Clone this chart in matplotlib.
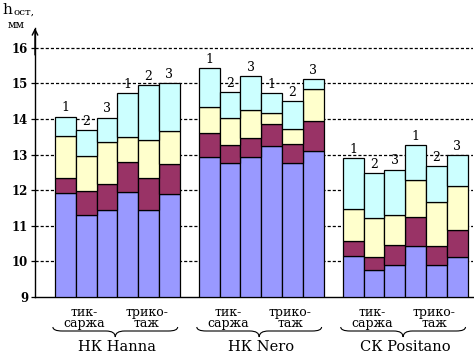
import matplotlib
matplotlib.use("Agg")
import matplotlib.pyplot as plt
from matplotlib.path import Path
from matplotlib.patches import PathPatch
import matplotlib.transforms as mtransforms
import numpy as np

groups = ['НК Hanna', 'НК Nero', 'СК Positano']
bar_labels = ['1', '2', '3', '1', '2', '3']
sub_labels = ['тик-\nсаржа', 'трико-\nтаж']
yticks = [9, 10, 11, 12, 13, 14, 15, 16]

# cumulative levels (tops of each layer), per group, per bar
blue_top = [[11.92, 11.31, 11.44, 11.95, 11.44, 11.90],
            [12.93, 12.75, 12.92, 13.25, 12.75, 13.11],
            [10.15, 9.77, 9.90, 10.43, 9.91, 10.12]]
magenta_top = [[12.34, 11.98, 12.18, 12.79, 12.33, 12.73],
               [13.62, 13.28, 13.48, 13.87, 13.31, 13.94],
               [10.56, 10.12, 10.45, 11.24, 10.44, 10.87]]
yellow_top = [[13.51, 12.95, 13.34, 13.49, 13.40, 13.67],
              [14.34, 14.04, 14.25, 14.17, 13.73, 14.85],
              [11.48, 11.22, 11.31, 12.28, 11.67, 12.12]]
cyan_top = [[14.07, 13.70, 14.04, 14.74, 14.95, 15.00],
            [15.44, 14.75, 15.20, 14.73, 14.51, 15.13],
            [12.90, 12.47, 12.58, 13.28, 12.68, 12.99]]

colors = ['#9999ff', '#993366', '#ffffcc', '#ccffff']

W, H = 474, 354
fig = plt.figure(figsize=(W / 100, H / 100), dpi=100)
ax = fig.add_axes([35 / W, 57 / H, 438 / W, 269 / H])

group_step = 6.92
y0 = 9.0
for g in range(3):
    x = np.arange(6) + g * group_step
    b = np.array(blue_top[g]); m = np.array(magenta_top[g])
    yl = np.array(yellow_top[g]); c = np.array(cyan_top[g])
    kw = dict(width=1.0, edgecolor='black', linewidth=0.9, zorder=3)
    ax.bar(x, b - y0, bottom=y0, color=colors[0], **kw)
    ax.bar(x, m - b, bottom=b, color=colors[1], **kw)
    ax.bar(x, yl - m, bottom=m, color=colors[2], **kw)
    ax.bar(x, c - yl, bottom=yl, color=colors[3], **kw)
    for xi, top, lbl in zip(x, c, bar_labels):
        ax.annotate(lbl, (xi, top), xytext=(0, 1.5), textcoords='offset points',
                    ha='center', va='bottom', fontsize=9, family='DejaVu Serif',
                    zorder=4)

ax.set_ylim(9, 9 + 269 / 35.6)
ax.set_xlim(-1.46, 19.6)
ax.set_yticks(yticks)
ax.set_yticklabels([str(t) for t in yticks], fontsize=8.5, fontweight='bold',
                   family='DejaVu Serif')
ax.set_xticks([])
for yv in yticks[1:]:
    ax.axhline(yv, color='black', lw=0.9, linestyle=(0, (2.5, 1.6)), zorder=1)
ax.tick_params(axis='y', direction='out', length=3, width=0.9, pad=2)
for s in ['top', 'right']:
    ax.spines[s].set_visible(False)
ax.spines['left'].set_linewidth(1.0)
ax.spines['bottom'].set_linewidth(1.0)
ax.annotate('', xy=(0, 1.0), xycoords='axes fraction', xytext=(0, 0.9),
            arrowprops=dict(arrowstyle='->', lw=1.0, color='black',
                            shrinkA=0, shrinkB=0, mutation_scale=10))

# category labels and braces below
trans = mtransforms.blended_transform_factory(ax.transData, ax.transAxes)
def fy(py):
    return (297 - py) / 269.0

for g in range(3):
    left = g * group_step - 0.5
    right = left + 6
    mid = left + 3
    for k, lbl in enumerate(sub_labels):
        cx = left + 1.4 + 3.0 * k
        ax.text(cx, fy(306), lbl, transform=trans, ha='center', va='top',
                fontsize=9, family='DejaVu Serif', linespacing=0.82,
                multialignment='center', clip_on=False)
    x0, x1 = left - 0.1, right - 0.1
    xm = (x0 + x1) / 2
    yt, ym, yb = fy(327), fy(331), fy(337)
    r = 0.45
    verts = [(x0, yt), (x0, ym), (x0 + r, ym), (xm - r, ym), (xm, ym), (xm, yb),
             (xm, ym), (xm + r, ym), (x1 - r, ym), (x1, ym), (x1, yt)]
    codes = [Path.MOVETO, Path.CURVE3, Path.CURVE3, Path.LINETO, Path.CURVE3,
             Path.CURVE3, Path.CURVE3, Path.CURVE3, Path.LINETO, Path.CURVE3,
             Path.CURVE3]
    ax.add_patch(PathPatch(Path(verts, codes), transform=trans, fill=False,
                           lw=0.8, edgecolor='black', clip_on=False))
    ax.text(mid, fy(351), groups[g], transform=trans, ha='center', va='baseline',
            fontsize=10.5, family='DejaVu Serif', clip_on=False)

# y-axis label
fig.text(2 / W, 1 - 14 / H, 'h', fontsize=11, family='DejaVu Serif', va='baseline')
fig.text(13 / W, 1 - 15 / H, 'ост,', fontsize=7.5, family='DejaVu Serif', va='baseline')
fig.text(8 / W, 1 - 28 / H, 'мм', fontsize=8, family='DejaVu Serif', va='baseline')

fig.savefig('out.png', dpi=100)
